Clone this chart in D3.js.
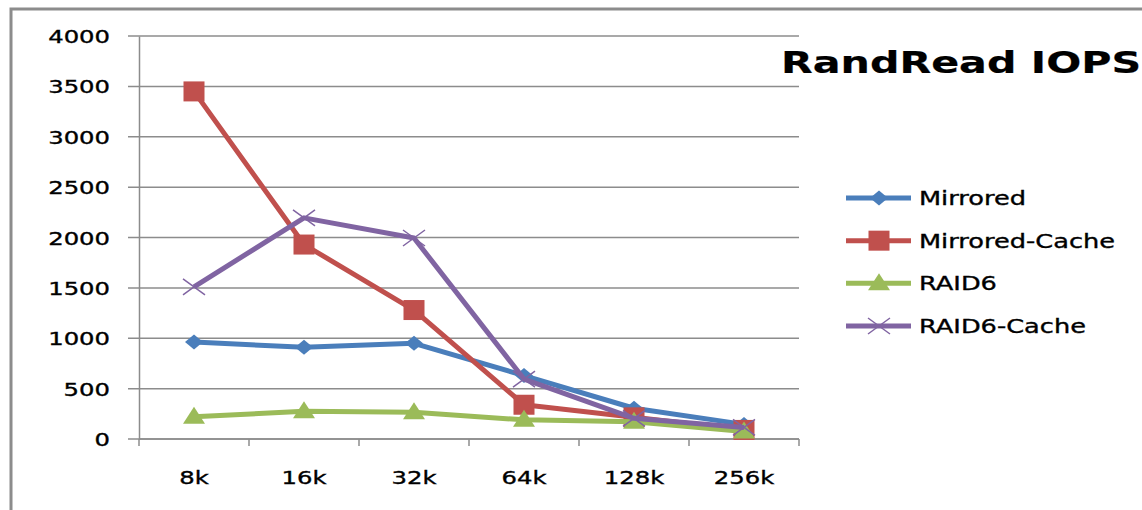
<!DOCTYPE html>
<html>
<head>
<meta charset="utf-8">
<script src="https://cdn.jsdelivr.net/npm/d3@7"></script>
<style>
  html, body { margin: 0; padding: 0; background: #fff; }
  svg { display: block; }
  text { font-family: "DejaVu Sans", Verdana, sans-serif; fill: #000; stroke: #000; stroke-width: 0.35px; }
</style>
</head>
<body>
<div id="chart"></div>
<script>
// Random-read IOPS by block size for four volume layouts
const blockSizes = ["8k", "16k", "32k", "64k", "128k", "256k"];
const mirrored      = [962, 910, 950, 630, 305, 145];
const mirroredCache = [3450, 1930, 1280, 340, 215, 90];
const raid6         = [220, 275, 265, 190, 170, 75];
const raid6Cache    = [1510, 2195, 1995, 595, 205, 115];
const yTicks = [0, 500, 1000, 1500, 2000, 2500, 3000, 3500, 4000];

const seriesList = [
  { name: "Mirrored",       values: mirrored,      color: "#4a7ebb", marker: "diamond" },
  { name: "Mirrored-Cache", values: mirroredCache, color: "#c0504d", marker: "square" },
  { name: "RAID6",          values: raid6,         color: "#9bbb59", marker: "triangle" },
  { name: "RAID6-Cache",    values: raid6Cache,    color: "#8064a2", marker: "cross" }
];

const W = 1142, H = 510;
const STRETCH = 1.35; // wide lettering

const svg = d3.select("#chart").append("svg")
  .attr("width", W).attr("height", H);

// outer chart frame
svg.append("rect")
  .attr("x", 11).attr("y", 9)
  .attr("width", W + 20).attr("height", H + 20)
  .attr("fill", "#fff").attr("stroke", "#8c8c8c").attr("stroke-width", 3);

const plot = { left: 139, right: 799, top: 36, bottom: 439 };

const x = d3.scaleBand().domain(blockSizes).range([plot.left, plot.right]).padding(0);
const y = d3.scaleLinear().domain([0, 4000]).range([plot.bottom, plot.top]);
const cx = d => x(d) + x.bandwidth() / 2;

// horizontal gridlines with outward tick stubs
svg.append("g").attr("class", "grid")
  .selectAll("line").data(yTicks).join("line")
  .attr("x1", plot.left - 11).attr("x2", plot.right)
  .attr("y1", d => y(d)).attr("y2", d => y(d))
  .attr("stroke", "#8c8c8c").attr("stroke-width", 1.5);

// y axis built by d3, labels restyled
const yAxis = svg.append("g")
  .attr("transform", `translate(${plot.left},0)`)
  .call(d3.axisLeft(y).tickValues(yTicks).tickSize(0).tickPadding(0).tickFormat(d3.format("d")));
yAxis.select(".domain").attr("stroke", "#8c8c8c").attr("stroke-width", 1.5);
yAxis.selectAll("text")
  .attr("x", 0).attr("dy", null)
  .attr("transform", `translate(-29,6.5) scale(${STRETCH},1)`)
  .style("font-size", "18px")
  .style("font-family", "'DejaVu Sans', Verdana, sans-serif")
  .attr("fill", "#000");

// x axis line and category boundary ticks
const xAxisG = svg.append("g");
xAxisG.append("line")
  .attr("x1", plot.left).attr("x2", plot.right)
  .attr("y1", plot.bottom).attr("y2", plot.bottom)
  .attr("stroke", "#8c8c8c").attr("stroke-width", 1.5);
const bounds = blockSizes.map(d => x(d)).concat([plot.right]);
xAxisG.selectAll("line.tk").data(bounds).join("line").attr("class", "tk")
  .attr("x1", d => d).attr("x2", d => d)
  .attr("y1", plot.bottom).attr("y2", plot.bottom + 7)
  .attr("stroke", "#8c8c8c").attr("stroke-width", 1.5);

const xAxis = svg.append("g")
  .attr("transform", `translate(0,${plot.bottom})`)
  .call(d3.axisBottom(x).tickSize(0).tickPadding(0));
xAxis.select(".domain").remove();
xAxis.selectAll("text")
  .attr("y", 0).attr("dy", null)
  .attr("transform", `translate(0,45) scale(${STRETCH},1)`)
  .style("font-size", "18px")
  .style("font-family", "'DejaVu Sans', Verdana, sans-serif")
  .attr("fill", "#000");

// marker shapes (wider than tall)
function drawMarker(g, type, color, px, py) {
  if (type === "diamond") {
    g.append("path")
      .attr("d", `M${px - 9},${py} L${px},${py - 7.5} L${px + 9},${py} L${px},${py + 7.5} Z`)
      .attr("fill", color);
  } else if (type === "square") {
    g.append("rect")
      .attr("x", px - 10.5).attr("y", py - 10).attr("width", 21).attr("height", 20)
      .attr("fill", color);
  } else if (type === "triangle") {
    g.append("path")
      .attr("d", `M${px},${py - 10} L${px + 11},${py + 7} L${px - 11},${py + 7} Z`)
      .attr("fill", color);
  } else if (type === "cross") {
    g.append("path")
      .attr("d", `M${px - 11},${py - 8} L${px + 11},${py + 8} M${px - 11},${py + 8} L${px + 11},${py - 8}`)
      .attr("stroke", color).attr("stroke-width", 1.5).attr("fill", "none");
  }
}

const line = d3.line().x(d => cx(d.cat)).y(d => y(d.v));

seriesList.forEach(s => {
  const pts = blockSizes.map((c, i) => ({ cat: c, v: s.values[i] }));
  const g = svg.append("g").attr("class", "series");
  g.append("path").datum(pts)
    .attr("d", line)
    .attr("fill", "none").attr("stroke", s.color)
    .attr("stroke-width", 5).attr("stroke-linejoin", "round");
  pts.forEach(p => drawMarker(g, s.marker, s.color, cx(p.cat), y(p.v)));
});

// title
svg.append("text")
  .attr("transform", `translate(781,73) scale(1.33,1)`)
  .style("font-size", "31px").style("font-weight", "bold")
  .style("stroke-width", "0.2px")
  .text("RandRead IOPS");

// legend
const legend = svg.append("g");
const legendRowY = d3.scalePoint().domain(seriesList.map(s => s.name)).range([198, 326]);
seriesList.forEach(s => {
  const ly = legendRowY(s.name);
  const g = legend.append("g");
  g.append("line")
    .attr("x1", 846).attr("x2", 911).attr("y1", ly).attr("y2", ly)
    .attr("stroke", s.color).attr("stroke-width", 5);
  drawMarker(g, s.marker, s.color, 879, ly);
  g.append("text")
    .attr("transform", `translate(919,${ly + 7}) scale(${STRETCH},1)`)
    .style("font-size", "19px")
    .text(s.name);
});
</script>
</body>
</html>
